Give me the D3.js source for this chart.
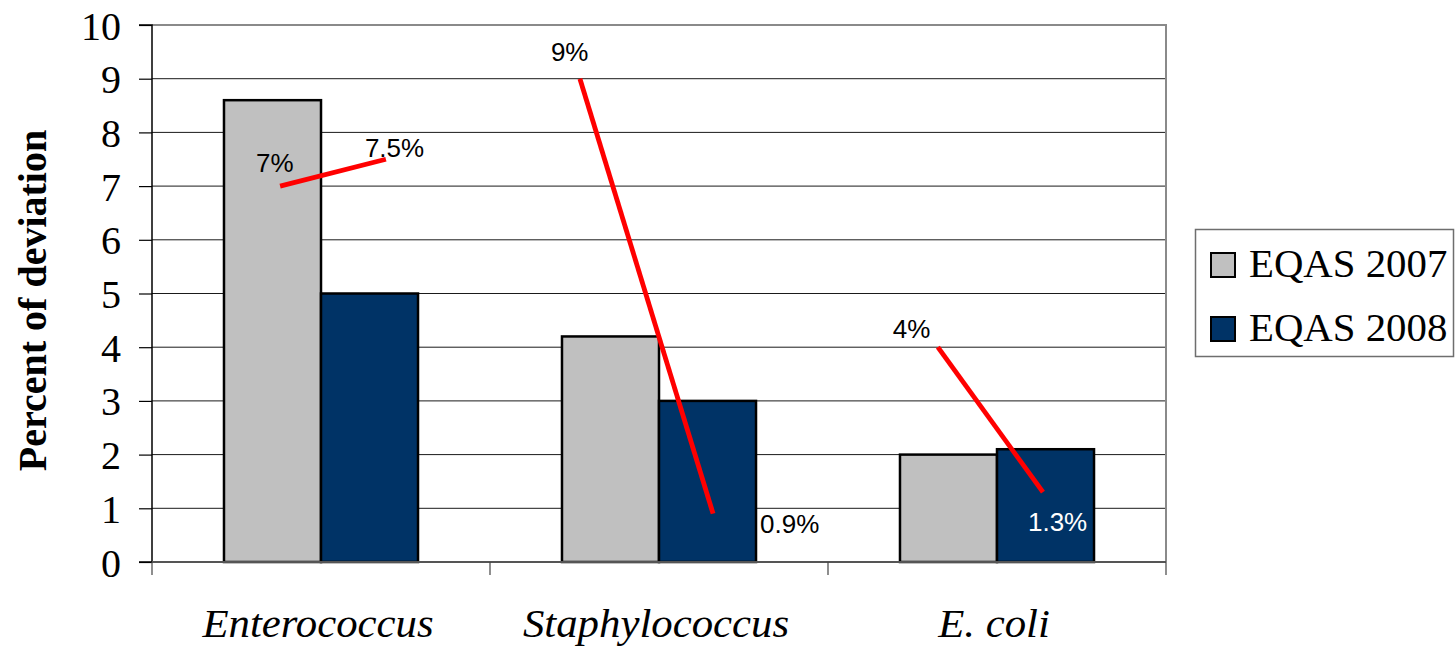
<!DOCTYPE html>
<html>
<head>
<meta charset="utf-8">
<script src="https://cdn.jsdelivr.net/npm/d3@7"></script>
<style>
  html, body { margin: 0; padding: 0; background: #ffffff; }
  svg { display: block; }
</style>
</head>
<body>
<div id="chart"></div>
<script>
// Percent of deviation per organism, EQAS 2007 vs 2008
const categories = ["Enterococcus", "Staphylococcus", "E. coli"];
const seriesNames = ["EQAS 2007", "EQAS 2008"];
const eqas2007 = [8.6, 4.2, 2.0];
const eqas2008 = [5.0, 3.0, 2.1];

// Red trend annotations: value at start and end of each segment
const trendFrom = [7, 9, 4];
const trendTo = [7.5, 0.9, 1.3];
const trendFromLabels = ["7%", "9%", "4%"];
const trendToLabels = ["7.5%", "0.9%", "1.3%"];

const yTickValues = [0, 1, 2, 3, 4, 5, 6, 7, 8, 9, 10];

// ---- layout ----
const W = 1455, H = 647;
const plot = { left: 152, right: 1166, top: 25, bottom: 562 };
const colors = { "EQAS 2007": "#c0c0c0", "EQAS 2008": "#003366" };
const serif = "'Liberation Serif', 'Times New Roman', Times, serif";
const sans = "'Liberation Sans', Arial, Helvetica, sans-serif";
const wide = 1.07; // slightly widened lettering for category and legend text

// where each red segment sits inside its category band (fraction of band width)
const trendSpan = [[0.379, 0.692], [0.266, 0.660], [0.325, 0.636]];
// label placement relative to the segment end points (px)
const fromLabelOffset = [[-24, -14], [-29, -18], [-45, -9]];
const toLabelOffset = [[-21, -2], [47, 19], [-15, 39]];
const toLabelColor = ["#000", "#000", "#fff"];

const svg = d3.select("#chart").append("svg")
  .attr("width", W).attr("height", H);
svg.append("rect").attr("width", W).attr("height", H).attr("fill", "#fff");

const x = d3.scaleBand().domain(categories).range([plot.left, plot.right]).padding(0);
const xs = d3.scaleBand().domain(seriesNames).range([0, x.bandwidth()])
  .paddingInner(0).paddingOuter(0.742);
const y = d3.scaleLinear().domain([0, 10]).range([plot.bottom, plot.top]);

// gridlines
svg.append("g").selectAll("line")
  .data(yTickValues.filter(v => v > 0 && v < 10))
  .join("line")
  .attr("x1", plot.left).attr("x2", plot.right)
  .attr("y1", d => y(d)).attr("y2", d => y(d))
  .attr("stroke", "#1a1a1a").attr("stroke-width", 1);

// plot frame: top and right in gray
svg.append("path")
  .attr("d", `M${plot.left},${y(10)}H${plot.right}V${y(0)}`)
  .attr("fill", "none").attr("stroke", "#8a8a8a").attr("stroke-width", 2);

// bars
const rows = categories.map((c, i) => ({ cat: c, values: [
  { key: "EQAS 2007", value: eqas2007[i] },
  { key: "EQAS 2008", value: eqas2008[i] }
]}));

svg.append("g").selectAll("g")
  .data(rows).join("g")
  .attr("transform", d => `translate(${x(d.cat)},0)`)
  .selectAll("rect")
  .data(d => d.values).join("rect")
  .attr("x", d => xs(d.key))
  .attr("width", xs.bandwidth())
  .attr("y", d => y(d.value))
  .attr("height", d => y(0) - y(d.value))
  .attr("fill", d => colors[d.key])
  .attr("stroke", "#000").attr("stroke-width", 2.5);

// y axis
const yAxis = svg.append("g")
  .attr("transform", `translate(${plot.left},0)`)
  .call(d3.axisLeft(y).tickValues(yTickValues).tickSize(13).tickPadding(18).tickFormat(d3.format("d")));
yAxis.select(".domain").attr("stroke", "#000").attr("stroke-width", 1.5)
  .attr("d", `M-13,${y(0)}H0V${y(10)}H-13`);
yAxis.selectAll(".tick line").attr("stroke", "#000").attr("stroke-width", 1.2);
yAxis.selectAll(".tick text")
  .attr("font-family", serif).attr("font-size", 40).attr("fill", "#000")
  .attr("dy", "0.35em");

// x axis: baseline, boundary ticks, italic category names
svg.append("line")
  .attr("x1", plot.left).attr("x2", plot.right)
  .attr("y1", y(0)).attr("y2", y(0))
  .attr("stroke", "#555").attr("stroke-width", 2);
const bounds = categories.map(c => x(c)).concat([x(categories[categories.length - 1]) + x.bandwidth()]);
svg.append("g").selectAll("line")
  .data(bounds).join("line")
  .attr("x1", d => d).attr("x2", d => d)
  .attr("y1", y(0)).attr("y2", y(0) + 13)
  .attr("stroke", "#444").attr("stroke-width", 1.2);

svg.append("g").selectAll("text")
  .data(categories).join("text")
  .attr("transform", d => `translate(${x(d) + x.bandwidth() / 2 - 3},${y(0) + 75}) scale(${wide},1)`)
  .attr("text-anchor", "middle")
  .attr("font-family", serif).attr("font-style", "italic")
  .attr("font-size", 40).attr("fill", "#000")
  .text(d => d);

// y axis title
svg.append("text")
  .attr("transform", `translate(46,${(plot.top + plot.bottom) / 2 + 7}) rotate(-90)`)
  .attr("text-anchor", "middle")
  .attr("font-family", serif).attr("font-weight", "bold")
  .attr("font-size", 40).attr("fill", "#000")
  .text("Percent of deviation");

// red trend segments
const trends = categories.map((c, i) => ({
  x1: x(c) + trendSpan[i][0] * x.bandwidth(),
  x2: x(c) + trendSpan[i][1] * x.bandwidth(),
  y1: y(trendFrom[i]),
  y2: y(trendTo[i]),
  i
}));

svg.append("g").selectAll("line")
  .data(trends).join("line")
  .attr("x1", d => d.x1).attr("y1", d => d.y1)
  .attr("x2", d => d.x2).attr("y2", d => d.y2)
  .attr("stroke", "#ff0000").attr("stroke-width", 4.8);

const labels = svg.append("g")
  .attr("font-family", sans).attr("font-size", 26);
labels.selectAll("text.from")
  .data(trends).join("text").attr("class", "from")
  .attr("x", d => d.x1 + fromLabelOffset[d.i][0])
  .attr("y", d => d.y1 + fromLabelOffset[d.i][1])
  .attr("fill", "#000")
  .text(d => trendFromLabels[d.i]);
labels.selectAll("text.to")
  .data(trends).join("text").attr("class", "to")
  .attr("x", d => d.x2 + toLabelOffset[d.i][0])
  .attr("y", d => d.y2 + toLabelOffset[d.i][1])
  .attr("fill", d => toLabelColor[d.i])
  .text(d => trendToLabels[d.i]);

// legend
const legend = svg.append("g");
legend.append("rect")
  .attr("x", 1195.5).attr("y", 229.5).attr("width", 258).attr("height", 127)
  .attr("fill", "#fff").attr("stroke", "#6e6e6e").attr("stroke-width", 1.5);
const items = legend.selectAll("g.item")
  .data(seriesNames).join("g").attr("class", "item")
  .attr("transform", (d, i) => `translate(0,${i * 64})`);
items.append("rect")
  .attr("x", 1211).attr("y", 253).attr("width", 24).attr("height", 24)
  .attr("fill", d => colors[d]).attr("stroke", "#000").attr("stroke-width", 2);
items.append("text")
  .attr("transform", `translate(1249,277) scale(1.02,1)`)
  .attr("font-family", serif).attr("font-size", 40).attr("fill", "#000")
  .text(d => d);
</script>
</body>
</html>
